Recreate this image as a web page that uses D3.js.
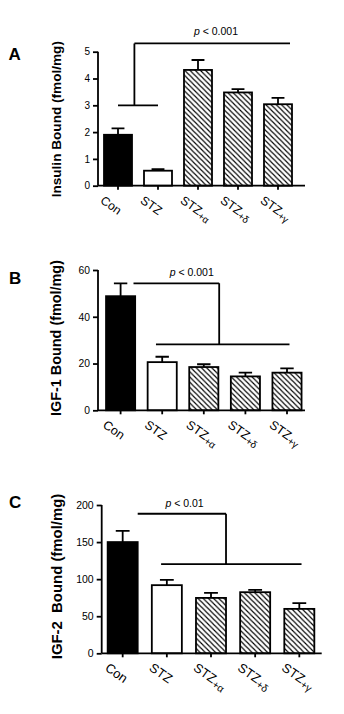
<!DOCTYPE html>
<html>
<head>
<meta charset="utf-8">
<script src="https://cdn.jsdelivr.net/npm/d3@7"></script>
<style>
  html, body { margin: 0; padding: 0; background: #fff; }
  svg { display: block; font-family: "Liberation Sans", Arial, Helvetica, sans-serif; }
</style>
</head>
<body>
<svg id="chart" width="344" height="714"></svg>
<script>
// ---------------- DATA ----------------
const categories = ["Con", "STZ", "STZ+α", "STZ+δ", "STZ+γ"];
const barStyle   = ["solid", "open", "hatch", "hatch", "hatch"];

const insulinMean = [1.9, 0.56, 4.32, 3.48, 3.04];
const insulinSEM  = [0.24, 0.06, 0.37, 0.12, 0.24];
const insulinTicks = [0, 1, 2, 3, 4, 5];

const igf1Mean = [48.8, 20.6, 18.5, 14.5, 16.1];
const igf1SEM  = [5.5, 2.3, 1.2, 1.6, 1.8];
const igf1Ticks = [0, 20, 40, 60];

const igf2Mean = [150, 91.9, 74.7, 82.4, 59.9];
const igf2SEM  = [15, 7.1, 6.8, 3.1, 7.7];
const igf2Ticks = [0, 50, 100, 150, 200];

// significance brackets: [fromIndex, toIndex, value] in category-index / data units
const insulinSig = { lower: [0, 1, 3.0], upper: [0.41, 4.3, 5.31], stem: 0.41, label: "p < 0.001", labelAt: [2.45, 5.63] };
const igf1Sig    = { lower: [0.85, 4.06, 28.2], upper: [0.31, 2.37, 54.3], stem: 2.37, label: "p < 0.001", labelAt: [1.71, 57.6] };
const igf2Sig    = { lower: [0.87, 4.05, 120.3], upper: [0.34, 2.34, 188.2], stem: 2.34, label: "p < 0.01", labelAt: [1.40, 197] };

const yTitles = ["Insulin Bound (fmol/mg)", "IGF-1 Bound (fmol/mg)", "IGF-2\u00a0\u00a0Bound (fmol/mg)"];
const panelLetters = ["A", "B", "C"];

// ---------------- LAYOUT ----------------
const panels = [
  { letter: panelLetters[0], title: yTitles[0], mean: insulinMean, sem: insulinSEM, ticks: insulinTicks, sig: insulinSig,
    yAxisX: 98, yRange: [185.7, 51.7], xRange: [98, 298], padInner: 0.3, xAxisEnd: 305,
    titleX: 60.5, titleY: 119.2, titleSize: 13.6, letterPos: [8.5, 59.5], tickSize: 10, catSize: 12.2 },
  { letter: panelLetters[1], title: yTitles[1], mean: igf1Mean, sem: igf1SEM, ticks: igf1Ticks, sig: igf1Sig,
    yAxisX: 98, yRange: [410.3, 270], xRange: [99.8, 307.8], padInner: 0.3, xAxisEnd: 305,
    titleX: 60.5, titleY: 338, titleSize: 14.4, letterPos: [9, 283.5], tickSize: 10.3, catSize: 12.5 },
  { letter: panelLetters[2], title: yTitles[2], mean: igf2Mean, sem: igf2SEM, ticks: igf2Ticks, sig: igf2Sig,
    yAxisX: 101.7, yRange: [653.3, 505], xRange: [100.6, 321.4], padInner: 0.32, xAxisEnd: 321.7,
    titleX: 61.5, titleY: 576.5, titleSize: 14.9, letterPos: [9, 508], tickSize: 10.5, catSize: 13 }
];

const svg = d3.select("#chart");
const defs = svg.append("defs");
const HP = 5.2;
const pat = defs.append("pattern")
  .attr("id", "hatch")
  .attr("patternUnits", "userSpaceOnUse")
  .attr("width", HP).attr("height", HP);
pat.append("rect").attr("width", HP).attr("height", HP).attr("fill", "#fff");
pat.append("path")
  .attr("d", `M-1,-1 L${HP + 1},${HP + 1} M-1,${HP - 1} L1,${HP + 1} M${HP - 1},-1 L${HP + 1},1`)
  .attr("stroke", "#000").attr("stroke-width", 1.15);

const LW = 1.8;

panels.forEach(p => {
  const g = svg.append("g");
  const y = d3.scaleLinear().domain([0, d3.max(p.ticks)]).range(p.yRange);
  const x = d3.scaleBand().domain(categories).range(p.xRange)
    .paddingInner(p.padInner).paddingOuter(p.padInner / 2);
  const bw = x.bandwidth();
  const idx = d3.scaleLinear().domain([0, categories.length - 1])
    .range([x(categories[0]) + bw / 2, x(categories[categories.length - 1]) + bw / 2]);

  // bars
  g.selectAll("rect.bar").data(categories).join("rect")
    .attr("class", "bar")
    .attr("x", d => x(d))
    .attr("y", (d, i) => y(p.mean[i]))
    .attr("width", bw)
    .attr("height", (d, i) => y(0) - y(p.mean[i]))
    .attr("fill", (d, i) => barStyle[i] === "solid" ? "#000" : barStyle[i] === "open" ? "#fff" : "url(#hatch)")
    .attr("stroke", "#000").attr("stroke-width", LW);

  // error bars (upper only)
  const capW = bw * 0.46;
  g.selectAll("path.err").data(categories).join("path")
    .attr("class", "err")
    .attr("d", (d, i) => {
      const cx = x(d) + bw / 2;
      const top = y(p.mean[i] + p.sem[i]);
      return `M${cx},${y(p.mean[i])}V${top}M${cx - capW / 2},${top}H${cx + capW / 2}`;
    })
    .attr("fill", "none").attr("stroke", "#000").attr("stroke-width", LW);

  // y axis
  const yAxis = d3.axisLeft(y).tickValues(p.ticks).tickSize(5).tickPadding(3).tickFormat(d3.format("d"));
  const ya = g.append("g").attr("transform", `translate(${p.yAxisX},0)`).call(yAxis);
  ya.select(".domain").attr("d", `M0,${y(0)}V${y(d3.max(p.ticks))}`).attr("stroke-width", LW);
  ya.selectAll(".tick line").attr("stroke-width", LW);
  ya.selectAll(".tick text").attr("font-size", p.tickSize).attr("font-family", "Liberation Sans, Arial, sans-serif");

  // x axis
  const xAxis = d3.axisBottom(x).tickSize(4).tickFormat("");
  const xa = g.append("g").attr("transform", `translate(0,${y(0)})`).call(xAxis);
  xa.select(".domain").attr("d", `M${p.yAxisX},0H${p.xAxisEnd}`).attr("stroke-width", LW);
  xa.selectAll(".tick line").attr("stroke-width", LW);

  // category labels (rotated)
  categories.forEach((c, i) => {
    const parts = c.split("+");
    const px = x(c) + bw / 2 - 18.5;
    const py = y(0) + 16.5;
    const t = g.append("text")
      .attr("transform", `translate(${px},${py}) rotate(35)`)
      .attr("font-size", p.catSize)
      .attr("text-anchor", "start");
    t.append("tspan").text(parts[0]);
    if (parts.length > 1) {
      t.append("tspan").attr("font-size", p.catSize * 0.8).attr("dy", 2.5).text("+" + parts[1]);
    }
  });

  // significance bracket
  const s = p.sig;
  g.append("path")
    .attr("d", `M${idx(s.lower[0])},${y(s.lower[2])}H${idx(s.lower[1])}` +
               `M${idx(s.upper[0])},${y(s.upper[2])}H${idx(s.upper[1])}` +
               `M${idx(s.stem)},${y(s.upper[2])}V${y(s.lower[2])}`)
    .attr("fill", "none").attr("stroke", "#000").attr("stroke-width", LW);
  const lt = g.append("text")
    .attr("x", idx(s.labelAt[0])).attr("y", y(s.labelAt[1]))
    .attr("text-anchor", "middle").attr("font-size", 10.5);
  const lparts = s.label.split(" ");
  lt.append("tspan").attr("font-style", "italic").text(lparts[0]);
  lt.append("tspan").text(" " + lparts.slice(1).join(" "));

  // y title
  g.append("text")
    .attr("transform", `translate(${p.titleX},${p.titleY}) rotate(-90)`)
    .attr("text-anchor", "middle")
    .attr("font-weight", "bold")
    .attr("font-size", p.titleSize)
    .text(p.title);

  // panel letter
  g.append("text")
    .attr("x", p.letterPos[0]).attr("y", p.letterPos[1])
    .attr("font-weight", "bold").attr("font-size", 17)
    .text(p.letter);
});
</script>
</body>
</html>
